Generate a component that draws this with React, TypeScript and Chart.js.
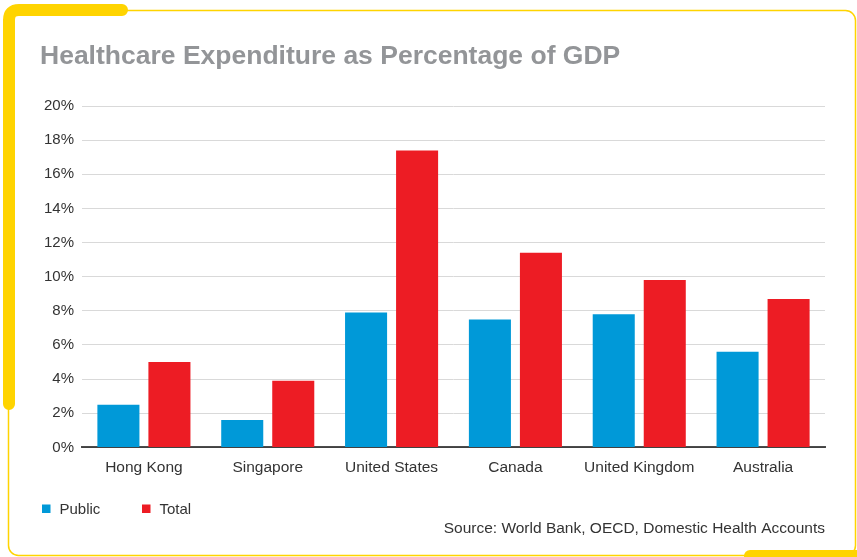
import React, { useEffect, useRef } from "react";
import { Chart, registerables } from "chart.js";

Chart.register(...registerables);

const categories = ["Hong Kong", "Singapore", "United States", "Canada", "United Kingdom", "Australia"];
const publicSpend = [2.5, 1.6, 7.9, 7.5, 7.8, 5.6];
const totalSpend = [5.0, 3.9, 17.4, 11.4, 9.8, 8.7];
const seriesNames = ["Public", "Total"];
const titleText = "Healthcare Expenditure as Percentage of GDP";
const sourceText = "Source: World Bank, OECD, Domestic Health Accounts";

const FONT = "'Liberation Sans', Arial, Helvetica, sans-serif";
const BLUE = "#0099D8";
const RED = "#ED1C24";
const YELLOW = "#FFD400";
const TEXT = "#333333";

const legendPlugin = {
  id: "flatLegend",
  afterDraw(chart: any) {
    const ctx = chart.ctx;
    const xs = [42, 142];
    ctx.save();
    ctx.font = `15px ${FONT}`;
    ctx.textBaseline = "middle";
    ctx.textAlign = "left";
    chart.data.datasets.forEach((ds: any, i: number) => {
      const x = xs[i];
      ctx.fillStyle = ds.backgroundColor;
      ctx.fillRect(x, 504.5, 8.5, 8.5);
      ctx.fillStyle = TEXT;
      ctx.fillText(ds.label, x + 17.5, 509.5);
    });
    ctx.restore();
  },
};

export default function App() {
  const ref = useRef<HTMLCanvasElement | null>(null);

  useEffect(() => {
    if (!ref.current) return;
    const chart = new Chart(ref.current, {
      type: "bar",
      data: {
        labels: categories,
        datasets: [
          { label: seriesNames[0], data: publicSpend, backgroundColor: BLUE, borderWidth: 0 },
          { label: seriesNames[1], data: totalSpend, backgroundColor: RED, borderWidth: 0 },
        ],
      },
      options: {
        responsive: false,
        animation: false,
        devicePixelRatio: 1,
        datasets: { bar: { categoryPercentage: 0.824, barPercentage: 0.824 } },
        layout: { padding: { top: 41, left: 40, right: 32, bottom: 19 } },
        plugins: {
          legend: { display: false },
          tooltip: { enabled: false },
          title: {
            display: true,
            text: titleText,
            align: "start",
            color: "#939598",
            font: { family: FONT, size: 26.5, weight: "bold" },
            padding: { top: 0, bottom: 33.2 },
          },
          subtitle: {
            display: true,
            text: sourceText,
            position: "bottom",
            align: "end",
            color: TEXT,
            font: { family: FONT, size: 15.5 },
            padding: { top: 32, bottom: 0 },
          },
        },
        scales: {
          x: {
            z: 1,
            grid: { display: false },
            border: { display: true, color: "rgba(0,0,0,0.7)", width: 2 },
            ticks: { color: TEXT, font: { family: FONT, size: 15.5 }, padding: 3, maxRotation: 0 },
            afterFit: (s: any) => {
              s.height = 40;
            },
          },
          y: {
            min: 0,
            max: 20,
            grid: { color: "#d9d9d9", lineWidth: 1, drawTicks: false },
            border: { display: false },
            ticks: {
              stepSize: 2,
              color: TEXT,
              font: { family: FONT, size: 15 },
              padding: 8,
              callback: (v: any) => `${v}%`,
            },
            afterFit: (s: any) => {
              s.width = 42;
            },
          },
        },
      },
      plugins: [legendPlugin],
    } as any);
    return () => chart.destroy();
  }, []);

  return (
    <div style={{ position: "absolute", left: 0, top: 0, width: 857, height: 557, background: "#fff", overflow: "hidden" }}>
      <svg width={857} height={557} style={{ position: "absolute", left: 0, top: 0 }}>
        <rect x={8.5} y={10.5} width={847} height={545} rx={10} ry={10} fill="none" stroke={YELLOW} strokeWidth={1.5} />
        <path d="M 9 404 L 9 20 Q 9 10 19 10 L 122 10" fill="none" stroke={YELLOW} strokeWidth={12} strokeLinecap="round" strokeLinejoin="round" />
        <path d="M 750 556 L 880 556" fill="none" stroke={YELLOW} strokeWidth={12} strokeLinecap="round" />
      </svg>
      <canvas ref={ref} width={857} height={557} style={{ position: "absolute", left: 0, top: 0, display: "block" }} />
    </div>
  );
}
